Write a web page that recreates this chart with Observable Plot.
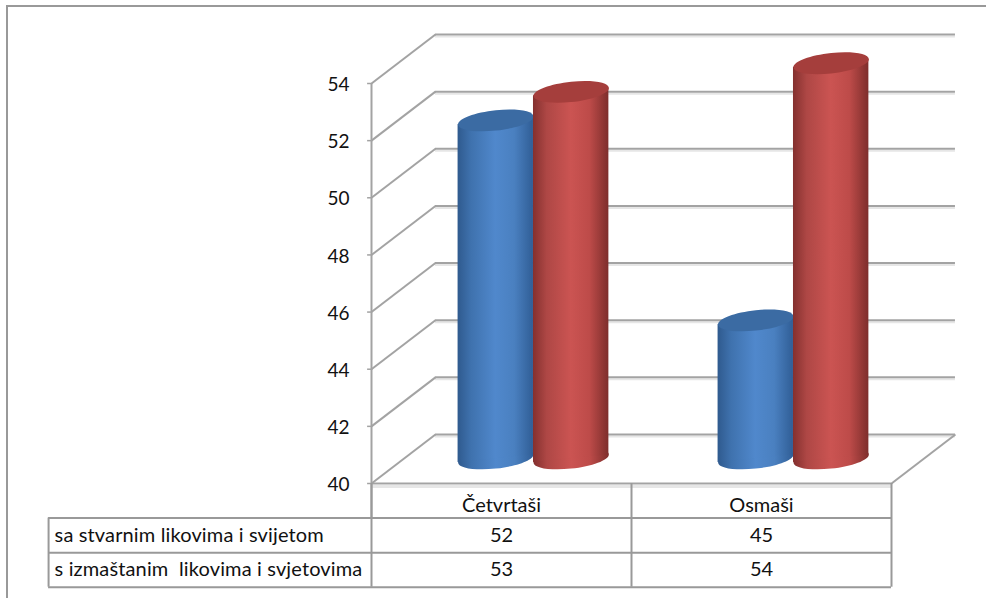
<!DOCTYPE html>
<html><head><meta charset="utf-8">
<script src="https://cdn.jsdelivr.net/npm/d3@7"></script>
<script src="https://cdn.jsdelivr.net/npm/@observablehq/plot@0.6"></script>
<style>
html,body{margin:0;padding:0;background:#fff;overflow:hidden}
svg{position:absolute;left:0;top:0;font-family:Lato,"Noto Sans",sans-serif}
.frame{position:absolute;left:6px;top:5px;width:1000px;height:620px;border:2px solid #999;box-sizing:border-box}
.cyl rect{transform-box:fill-box;transform-origin:center;transform:skewY(-6deg)}
.soft{filter:blur(.6px)}
.lbl text{letter-spacing:.14px}
</style></head><body>
<div class="frame"></div>
<div id="chart"></div>
<script>
const categories = ["Četvrtaši", "Osmaši"];
const rowLabels = ["sa stvarnim likovima i svijetom", "s izmaštanim  likovima i svjetovima"];
const realValues = [52, 45];
const imaginedValues = [53, 54];
const yTicks = [40, 42, 44, 46, 48, 50, 52, 54];

const depthX = 0.246, depthY = 1.715;   // 3D depth in data units
const barW = 0.29, rowH = 1.21, tableLeft = -1.242, tickLen = 0.015;
const barMid = 0.5 + depthX / 2, floorY = 40 + depthY / 2 + 0.02;

const idx = categories.map((_, i) => i);
const rows = [
  {cls: "b", values: realValues, x1: i => i + barMid - barW, x2: i => i + barMid},
  {cls: "r", values: imaginedValues, x1: i => i + barMid, x2: i => i + barMid + barW}
];

// Ellipse symbol: vertically skewed so that it follows the tilted cylinder.
const tilt = Math.tan(6 * Math.PI / 180), k = 0.5523;
const ellipse = {draw(ctx, size) {
  const rx = Math.sqrt(size / Math.PI), ry = rx * 0.27;
  const P = (x, y) => [x, y - tilt * x];
  const B = (a, b, c, d, e, f) => ctx.bezierCurveTo(...P(a, b), ...P(c, d), ...P(e, f));
  ctx.moveTo(...P(rx, 0));
  B(rx, k * ry, k * rx, ry, 0, ry);
  B(-k * rx, ry, -rx, k * ry, -rx, 0);
  B(-rx, -k * ry, -k * rx, -ry, 0, -ry);
  B(k * rx, -ry, rx, -k * ry, rx, 0);
  ctx.closePath();
}};

const grad = (id, stops) => `<linearGradient id="${id}" x1="0" x2="1" y1="0" y2="0">` +
  stops.map(([o, c]) => `<stop offset="${o}" stop-color="${c}"/>`).join("") + `</linearGradient>`;
const defs = () => {
  const g = document.createElementNS("http://www.w3.org/2000/svg", "defs");
  g.innerHTML =
    grad("gb", [[0, "#2f5a8e"], [.18, "#3f72ae"], [.5, "#5088cc"], [.75, "#4a80c0"], [1, "#305e96"]]) +
    grad("gr", [[0, "#84302e"], [.18, "#ae4745"], [.5, "#cb5452"], [.75, "#bd4b49"], [1, "#7e2e2c"]]);
  return g;
};

const gridColor = "#a3a3a3", shadeColor = "#e6e6e6";
const table = [];
rows.forEach((r, ri) => {
  table.push(Plot.text([rowLabels[ri]], {x: () => tableLeft, y: () => 40 - rowH * (ri + 1.5), text: d => d, textAnchor: "start", dx: 6, fontSize: 20, fill: "#111", className: "lbl"}));
  table.push(Plot.text(idx, {x: i => i + .5, y: () => 40 - rowH * (ri + 1.5), text: i => String(r.values[i]), fontSize: 20, fill: "#111"}));
});

const cylinders = idx.flatMap(i => rows.flatMap(r => {
  const xc = (r.x1(i) + r.x2(i)) / 2, top = r.values[i] + depthY / 2 - 0.15;
  const f = `url(#g${r.cls})`, topFill = r.cls === "b" ? "#3b6ba3" : "#a53e3c";
  const rPx = 37.7;
  return [
    Plot.dot([0], {x: () => xc, y: () => floorY, r: rPx, symbol: ellipse, fill: f, className: "soft"}),
    Plot.rect([0], {x1: () => r.x1(i), x2: () => r.x2(i), y1: () => floorY, y2: () => top, fill: f, className: "cyl soft"}),
    Plot.dot([0], {x: () => xc, y: () => top, r: rPx, symbol: ellipse, fill: topFill, className: "soft"})
  ];
}));

const chart = Plot.plot({
  width: 986, height: 598,
  marginLeft: 371, marginRight: 95, marginTop: 83, marginBottom: 115,
  style: {background: "transparent", overflow: "visible"},
  x: {type: "linear", domain: [0, 2], axis: null},
  y: {type: "linear", domain: [40, 54], axis: null},
  marks: [
    defs,
    // soft shadow under the wall and floor lines
    Plot.ruleY(yTicks, {y: d => d + depthY, x1: () => depthX, x2: () => 2 + depthX, stroke: shadeColor, strokeWidth: 2, dy: 2}),
    Plot.ruleY([40], {y: d => d, x1: () => 0, x2: () => 2, stroke: shadeColor, strokeWidth: 3, dy: 3}),
    // back wall gridlines, diagonals on the side wall
    Plot.ruleY(yTicks, {y: d => d + depthY, x1: () => depthX, x2: () => 2 + depthX, stroke: gridColor, strokeWidth: 2}),
    Plot.link(yTicks, {x1: () => 0, y1: d => d, x2: () => depthX, y2: d => d + depthY, stroke: gridColor, strokeWidth: 2}),
    // floor
    Plot.ruleY([40], {y: d => d, x1: () => 0, x2: () => 2, stroke: gridColor, strokeWidth: 2}),
    Plot.link([40], {x1: () => 2, y1: d => d, x2: () => 2 + depthX, y2: d => d + depthY, stroke: gridColor, strokeWidth: 2}),
    // value axis
    Plot.ruleX([0], {x: d => d, y1: () => 40 - rowH, y2: () => 54, stroke: gridColor, strokeWidth: 2}),
    Plot.ruleY(yTicks, {y: d => d, x1: () => -tickLen, x2: () => 0, stroke: gridColor, strokeWidth: 1.5}),
    Plot.text(yTicks, {x: () => 0, y: d => d, text: d => String(d), textAnchor: "end", dx: -22, dy: 1.5, fontSize: 19, fill: "#111"}),
    // data table
    Plot.ruleY([1, 2, 3], {x1: () => tableLeft, x2: () => 2, y: d => 40 - rowH * d, stroke: "#999", strokeWidth: 2}),
    Plot.ruleX([0, 1, 2], {x: d => d, y1: () => 40 - 3 * rowH, y2: () => 40, stroke: "#999", strokeWidth: 2}),
    Plot.ruleX([tableLeft], {x: d => d, y1: () => 40 - 3 * rowH, y2: () => 40 - rowH, stroke: "#999", strokeWidth: 2}),
    Plot.text(idx, {x: i => i + .5, y: () => 40 - rowH / 2, dy: 5, text: i => categories[i], fontSize: 20, fill: "#111"}),
    ...table,
    ...cylinders
  ]
});
document.getElementById("chart").append(chart);
</script>
</body></html>
